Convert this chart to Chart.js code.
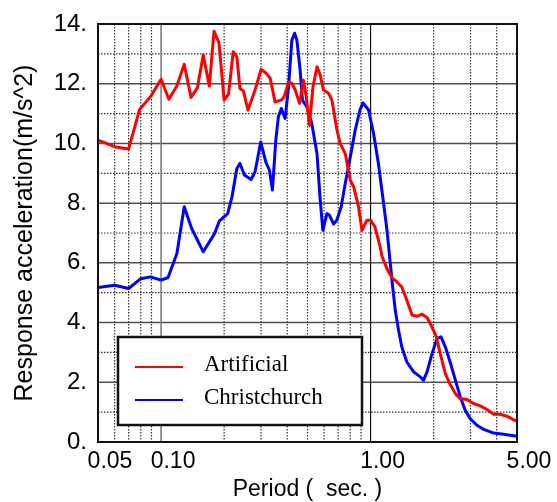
<!DOCTYPE html>
<html>
<head>
<meta charset="utf-8">
<script src="https://cdn.jsdelivr.net/npm/chart.js@4.4.1/dist/chart.umd.min.js"></script>
<style>
  html, body { margin: 0; padding: 0; background: #fff; }
  #wrap { width: 557px; height: 502px; }
</style>
</head>
<body>
<div id="wrap"><canvas id="c" width="557" height="502"></canvas></div>
<script>
// ---- data ----
const artificialPeriods = [0.05, 0.060, 0.070, 0.079, 0.089, 0.100, 0.109, 0.119, 0.129, 0.139, 0.149, 0.159, 0.170, 0.179, 0.189, 0.200, 0.210, 0.221, 0.230, 0.238, 0.247, 0.260, 0.281, 0.300, 0.316, 0.332, 0.350, 0.375, 0.387, 0.406, 0.421, 0.437, 0.458, 0.478, 0.493, 0.511, 0.531, 0.555, 0.575, 0.596, 0.630, 0.654, 0.691, 0.716, 0.757, 0.800, 0.830, 0.876, 0.910, 0.960, 1.000, 1.050, 1.110, 1.134, 1.198, 1.266, 1.337, 1.41, 1.49, 1.577, 1.666, 1.76, 1.86, 1.966, 2.06, 2.15, 2.275, 2.385, 2.54, 2.68, 2.89, 3.1, 3.34, 3.6, 3.87, 4.16, 4.49, 5.0];
const artificialValues  = [10.11, 9.89, 9.81, 11.14, 11.56, 12.15, 11.48, 11.93, 12.65, 11.54, 11.86, 12.96, 11.92, 13.76, 13.37, 11.45, 11.65, 13.07, 12.90, 11.84, 11.76, 11.12, 11.79, 12.48, 12.37, 12.18, 11.39, 11.45, 11.56, 12.06, 12.01, 11.79, 11.34, 12.12, 11.56, 10.61, 11.90, 12.57, 12.29, 11.79, 11.68, 11.45, 10.45, 10.0, 9.66, 8.77, 8.55, 7.88, 7.09, 7.43, 7.43, 7.20, 6.54, 6.22, 5.80, 5.50, 5.36, 5.19, 4.75, 4.25, 4.21, 4.28, 4.17, 3.85, 3.52, 2.96, 2.29, 1.96, 1.62, 1.45, 1.42, 1.29, 1.21, 1.09, 0.93, 0.93, 0.86, 0.69];

const christchurchPeriods = [0.05, 0.06, 0.07, 0.08, 0.089, 0.10, 0.108, 0.119, 0.129, 0.14, 0.159, 0.18, 0.19, 0.208, 0.218, 0.23, 0.238, 0.25, 0.269, 0.281, 0.299, 0.316, 0.329, 0.34, 0.353, 0.363, 0.375, 0.391, 0.406, 0.421, 0.434, 0.445, 0.461, 0.473, 0.496, 0.524, 0.555, 0.575, 0.592, 0.619, 0.636, 0.666, 0.69, 0.724, 0.757, 0.80, 0.845, 0.89, 0.92, 0.978, 1.033, 1.09, 1.154, 1.198, 1.235, 1.275, 1.312, 1.36, 1.41, 1.49, 1.605, 1.727, 1.79, 1.86, 1.966, 2.076, 2.17, 2.275, 2.41, 2.54, 2.68, 2.83, 2.99, 3.22, 3.47, 3.87, 4.32, 5.0];
const christchurchValues  = [5.17, 5.25, 5.14, 5.47, 5.53, 5.42, 5.51, 6.31, 7.88, 7.15, 6.37, 6.98, 7.41, 7.65, 8.21, 9.16, 9.33, 8.94, 8.79, 9.05, 10.05, 9.38, 9.11, 8.44, 10.11, 10.89, 11.17, 10.84, 11.90, 13.46, 13.69, 13.46, 12.46, 11.45, 11.23, 10.67, 9.66, 8.10, 7.09, 7.65, 7.60, 7.30, 7.43, 7.88, 8.66, 9.55, 10.45, 11.12, 11.36, 11.12, 10.34, 9.33, 7.99, 7.09, 6.15, 5.20, 4.41, 3.74, 3.18, 2.68, 2.35, 2.18, 2.07, 2.35, 2.96, 3.47, 3.52, 3.18, 2.63, 2.07, 1.51, 1.06, 0.78, 0.56, 0.42, 0.30, 0.26, 0.19];

const seriesNames = ['Artificial', 'Christchurch'];

const xLabelTicks = [0.05, 0.1, 1, 5];
const xMinorGrid  = [0.06, 0.07, 0.08, 0.09, 0.2, 0.3, 0.4, 0.5, 0.6, 0.7, 0.8, 0.9, 2, 3, 4];
const yTicks      = [0, 2, 4, 6, 8, 10, 12, 14];
const yMinorGrid  = [1, 3, 5, 7, 9, 11, 13];

const toPoints = (xs, ys) => xs.map((x, i) => ({ x, y: ys[i] }));

// grid + frame + boxed legend, drawn from the scales
const framePlugin = {
  id: 'frame',
  beforeDatasetsDraw(chart) {
    const { ctx, chartArea: a, scales: { x, y } } = chart;
    ctx.save();
    const vline = (v) => { const px = x.getPixelForValue(v); ctx.beginPath(); ctx.moveTo(px, a.top); ctx.lineTo(px, a.bottom); ctx.stroke(); };
    const hline = (v) => { const py = y.getPixelForValue(v); ctx.beginPath(); ctx.moveTo(a.left, py); ctx.lineTo(a.right, py); ctx.stroke(); };

    ctx.setLineDash([1.5, 1.5]);
    ctx.strokeStyle = '#333';
    ctx.lineWidth = 1.2;
    yMinorGrid.forEach(hline);
    xMinorGrid.forEach(vline);

    ctx.setLineDash([]);
    ctx.strokeStyle = '#505050';
    ctx.lineWidth = 1.5;
    yTicks.forEach(hline);
    ctx.strokeStyle = '#777';
    vline(0.1);
    ctx.strokeStyle = '#111';
    ctx.lineWidth = 1.2;
    vline(1);
    ctx.restore();
  },
  afterDatasetsDraw(chart) {
    const { ctx, chartArea: a } = chart;
    ctx.save();
    ctx.strokeStyle = '#111';
    ctx.lineWidth = 2;
    ctx.strokeRect(a.left, a.top, a.right - a.left, a.bottom - a.top);

    // legend box
    const bx = 118, by = 337, bw = 244, bh = 88;
    ctx.fillStyle = '#fff';
    ctx.fillRect(bx, by, bw, bh);
    ctx.lineWidth = 2.5;
    ctx.strokeRect(bx, by, bw, bh);
    ctx.font = '23px "Liberation Serif", serif';
    ctx.textBaseline = 'middle';
    chart.data.datasets.forEach((ds, i) => {
      const ly = 367 + i * 33;
      ctx.strokeStyle = ds.borderColor;
      ctx.lineWidth = 2;
      ctx.beginPath(); ctx.moveTo(135, ly); ctx.lineTo(183, ly); ctx.stroke();
      ctx.fillStyle = '#000';
      ctx.fillText(ds.label, 204, ly - 2);
    });
    ctx.restore();
  }
};

Chart.defaults.font.family = '"Liberation Sans", Arial, sans-serif';
Chart.defaults.color = '#000';

new Chart(document.getElementById('c'), {
  type: 'line',
  data: {
    datasets: [
      { label: seriesNames[0], data: toPoints(artificialPeriods, artificialValues), borderColor: '#ff0000', borderWidth: 3, pointRadius: 0, tension: 0, borderJoinStyle: 'round' },
      { label: seriesNames[1], data: toPoints(christchurchPeriods, christchurchValues), borderColor: '#0000ff', borderWidth: 3, pointRadius: 0, tension: 0, borderJoinStyle: 'round' },
    ],
  },
  options: {
    responsive: false,
    animation: false,
    layout: { padding: { top: 24, right: 40, left: 0, bottom: 0 } },
    plugins: { legend: { display: false }, tooltip: { enabled: false } },
    scales: {
      x: {
        type: 'logarithmic', min: 0.05, max: 5,
        grid: { display: false }, border: { display: false },
        afterBuildTicks: s => { s.ticks = xLabelTicks.map(v => ({ value: v })); },
        afterFit: s => { s.height = 60; },
        ticks: { autoSkip: false, maxRotation: 0, padding: -2, labelOffset: 12, font: { size: 23 }, callback: v => Number(v).toFixed(2) },
        title: { display: true, text: 'Period (  sec. )', font: { size: 23, lineHeight: 1.1 }, padding: { top: 0, bottom: 0 } },
      },
      y: {
        min: 0, max: 14,
        grid: { display: false }, border: { display: false },
        afterBuildTicks: s => { s.ticks = yTicks.map(v => ({ value: v })); },
        afterFit: s => { s.width = 98; },
        ticks: { padding: 3, font: { size: 24 }, callback: v => v + '.' },
        title: { display: true, text: 'Response acceleration(m/s^2)', font: { size: 25 }, padding: { top: 10, bottom: 0 } },
      },
    },
  },
  plugins: [framePlugin],
});
</script>
</body>
</html>
